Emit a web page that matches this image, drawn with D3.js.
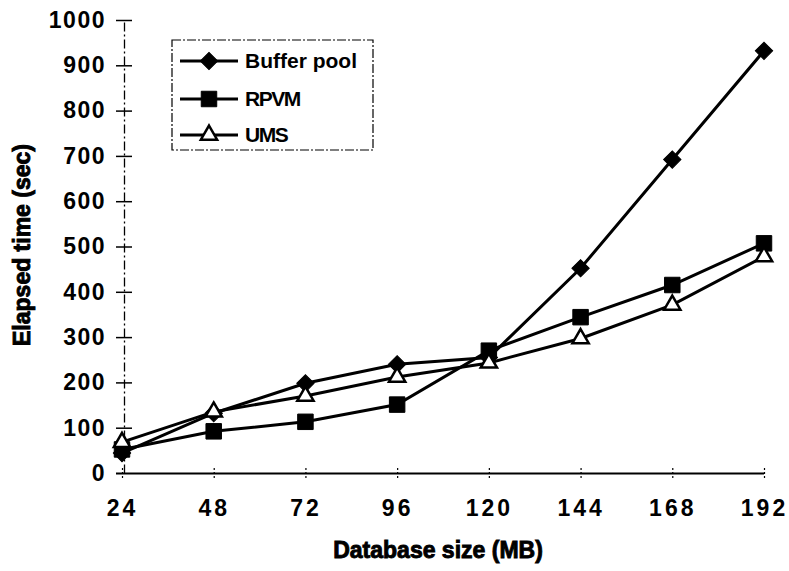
<!DOCTYPE html>
<html>
<head>
<meta charset="utf-8">
<script src="https://cdn.jsdelivr.net/npm/d3@7"></script>
<style>
  body { margin: 0; background: #fff; }
  text { font-family: "Liberation Sans", Arial, sans-serif; font-weight: bold; fill: #000; }
</style>
</head>
<body>
<svg id="chart" width="789" height="571"></svg>
<script>
(function () {
    var width = 789, height = 571

    // values
    var sizes = [24, 48, 72, 96, 120, 144, 168, 192];
    var bufferPool = [44, 132, 198, 240, 255, 452, 692, 932];
    var rpvm = [52, 92, 113, 151, 270, 344, 415, 507];
    var ums = [68, 135, 170, 212, 243, 297, 371, 478];
    var yTicks = [0, 100, 200, 300, 400, 500, 600, 700, 800, 900, 1000];
    var seriesNames = ["Buffer pool", "RPVM", "UMS"];

    var series = [
        { name: seriesNames[0], values: bufferPool, symbol: d3.symbolSquare, size: 150, rot: 45, fill: "#000" },
        { name: seriesNames[1], values: rpvm, symbol: d3.symbolSquare, size: 240, rot: 0, fill: "#000" },
        { name: seriesNames[2], values: ums, symbol: d3.symbolTriangle, size: 115, rot: 0, fill: "#fff" }
    ];

    var x = d3.scaleLinear().domain([24, 192]).range([122, 764]);
    var y = d3.scaleLinear().domain([0, 1000]).range([473, 20]);

    var svg = d3.select("#chart");

    // y axis: dashed spine with cross ticks
    var yAxis = svg.append("g").attr("transform", "translate(" + (x(24) + 2) + ",0)")
        .call(d3.axisLeft(y).tickValues(yTicks).tickFormat(d3.format("d"))
            .tickSize(8).tickPadding(10).tickSizeOuter(0));
    yAxis.select(".domain").attr("stroke-dasharray", "9,3,2,3").attr("stroke-width", 1.3);
    yAxis.selectAll(".tick line").attr("x2", 8).attr("x1", -8).attr("stroke-width", 1.5);
    yAxis.selectAll(".tick text").style("font-size", "23px").style("letter-spacing", "1.5px");
    yAxis.select(".tick line").attr("x1", -8).attr("x2", x(192) - x(24) - 2).attr("stroke-width", 1.8);

    // x axis labels and small ticks
    var xAxis = svg.append("g").attr("transform", "translate(0," + y(0) + ")")
        .call(d3.axisBottom(x).tickValues(sizes).tickSize(5).tickPadding(22).tickSizeOuter(0));
    xAxis.select(".domain").remove();
    xAxis.selectAll(".tick line").attr("y1", -5).attr("stroke-width", 1.2).attr("stroke-dasharray", "2,2");
    xAxis.selectAll(".tick text").style("font-size", "23px").style("letter-spacing", "3px");

    // axis titles
    svg.append("text")
        .attr("x", (x(24) + x(192)) / 2 - 5).attr("y", 558)
        .attr("text-anchor", "middle")
        .style("font-size", "23px").style("font-weight", "900")
        .attr("stroke", "#000").attr("stroke-width", 0.9)
        .text("Database size (MB)");

    svg.append("text")
        .attr("transform", "translate(30,245) rotate(-90)")
        .attr("text-anchor", "middle")
        .style("font-size", "23px").style("font-weight", "900")
        .attr("stroke", "#000").attr("stroke-width", 0.9)
        .text("Elapsed time (sec)");

    var line = d3.line()
        .x(function (d, i) { return x(sizes[i]); })
        .y(function (d) { return y(d); });

    series.forEach(function (s) {
        svg.append("path")
            .attr("d", line(s.values))
            .attr("fill", "none")
            .attr("stroke", "#000")
            .attr("stroke-width", 3);
    });

    series.forEach(function (s) {
        var sym = d3.symbol().type(s.symbol).size(s.size);
        svg.append("g").selectAll("path")
            .data(s.values)
            .join("path")
            .attr("transform", function (d, i) {
                return "translate(" + x(sizes[i]) + "," + y(d) + ") rotate(" + s.rot + ")";
            })
            .attr("d", sym)
            .attr("fill", s.fill)
            .attr("stroke", "#000")
            .attr("stroke-width", s.fill === "#fff" ? 2.5 : 1);
    });

    // legend
    var legend = svg.append("g");
    legend.append("rect")
        .attr("x", 172).attr("y", 40).attr("width", 201).attr("height", 110)
        .attr("fill", "#fff").attr("stroke", "#000").attr("stroke-width", 1.2)
        .attr("stroke-dasharray", "9,2,2,2");

    series.forEach(function (s, i) {
        var ly = [61, 99, 135][i];
        legend.append("line")
            .attr("x1", 180).attr("x2", 238).attr("y1", ly).attr("y2", ly)
            .attr("stroke", "#000").attr("stroke-width", 3);
        legend.append("path")
            .attr("transform", "translate(209," + ly + ") rotate(" + s.rot + ")")
            .attr("d", d3.symbol().type(s.symbol).size(s.size))
            .attr("fill", s.fill).attr("stroke", "#000")
            .attr("stroke-width", s.fill === "#fff" ? 2.5 : 1);
        legend.append("text")
            .attr("x", 245).attr("y", ly + 7)
            .style("font-size", "21px")
            .style("letter-spacing", i === 0 ? "0px" : "-1.5px")
            .text(s.name);
    });
})();
</script>
</body>
</html>
